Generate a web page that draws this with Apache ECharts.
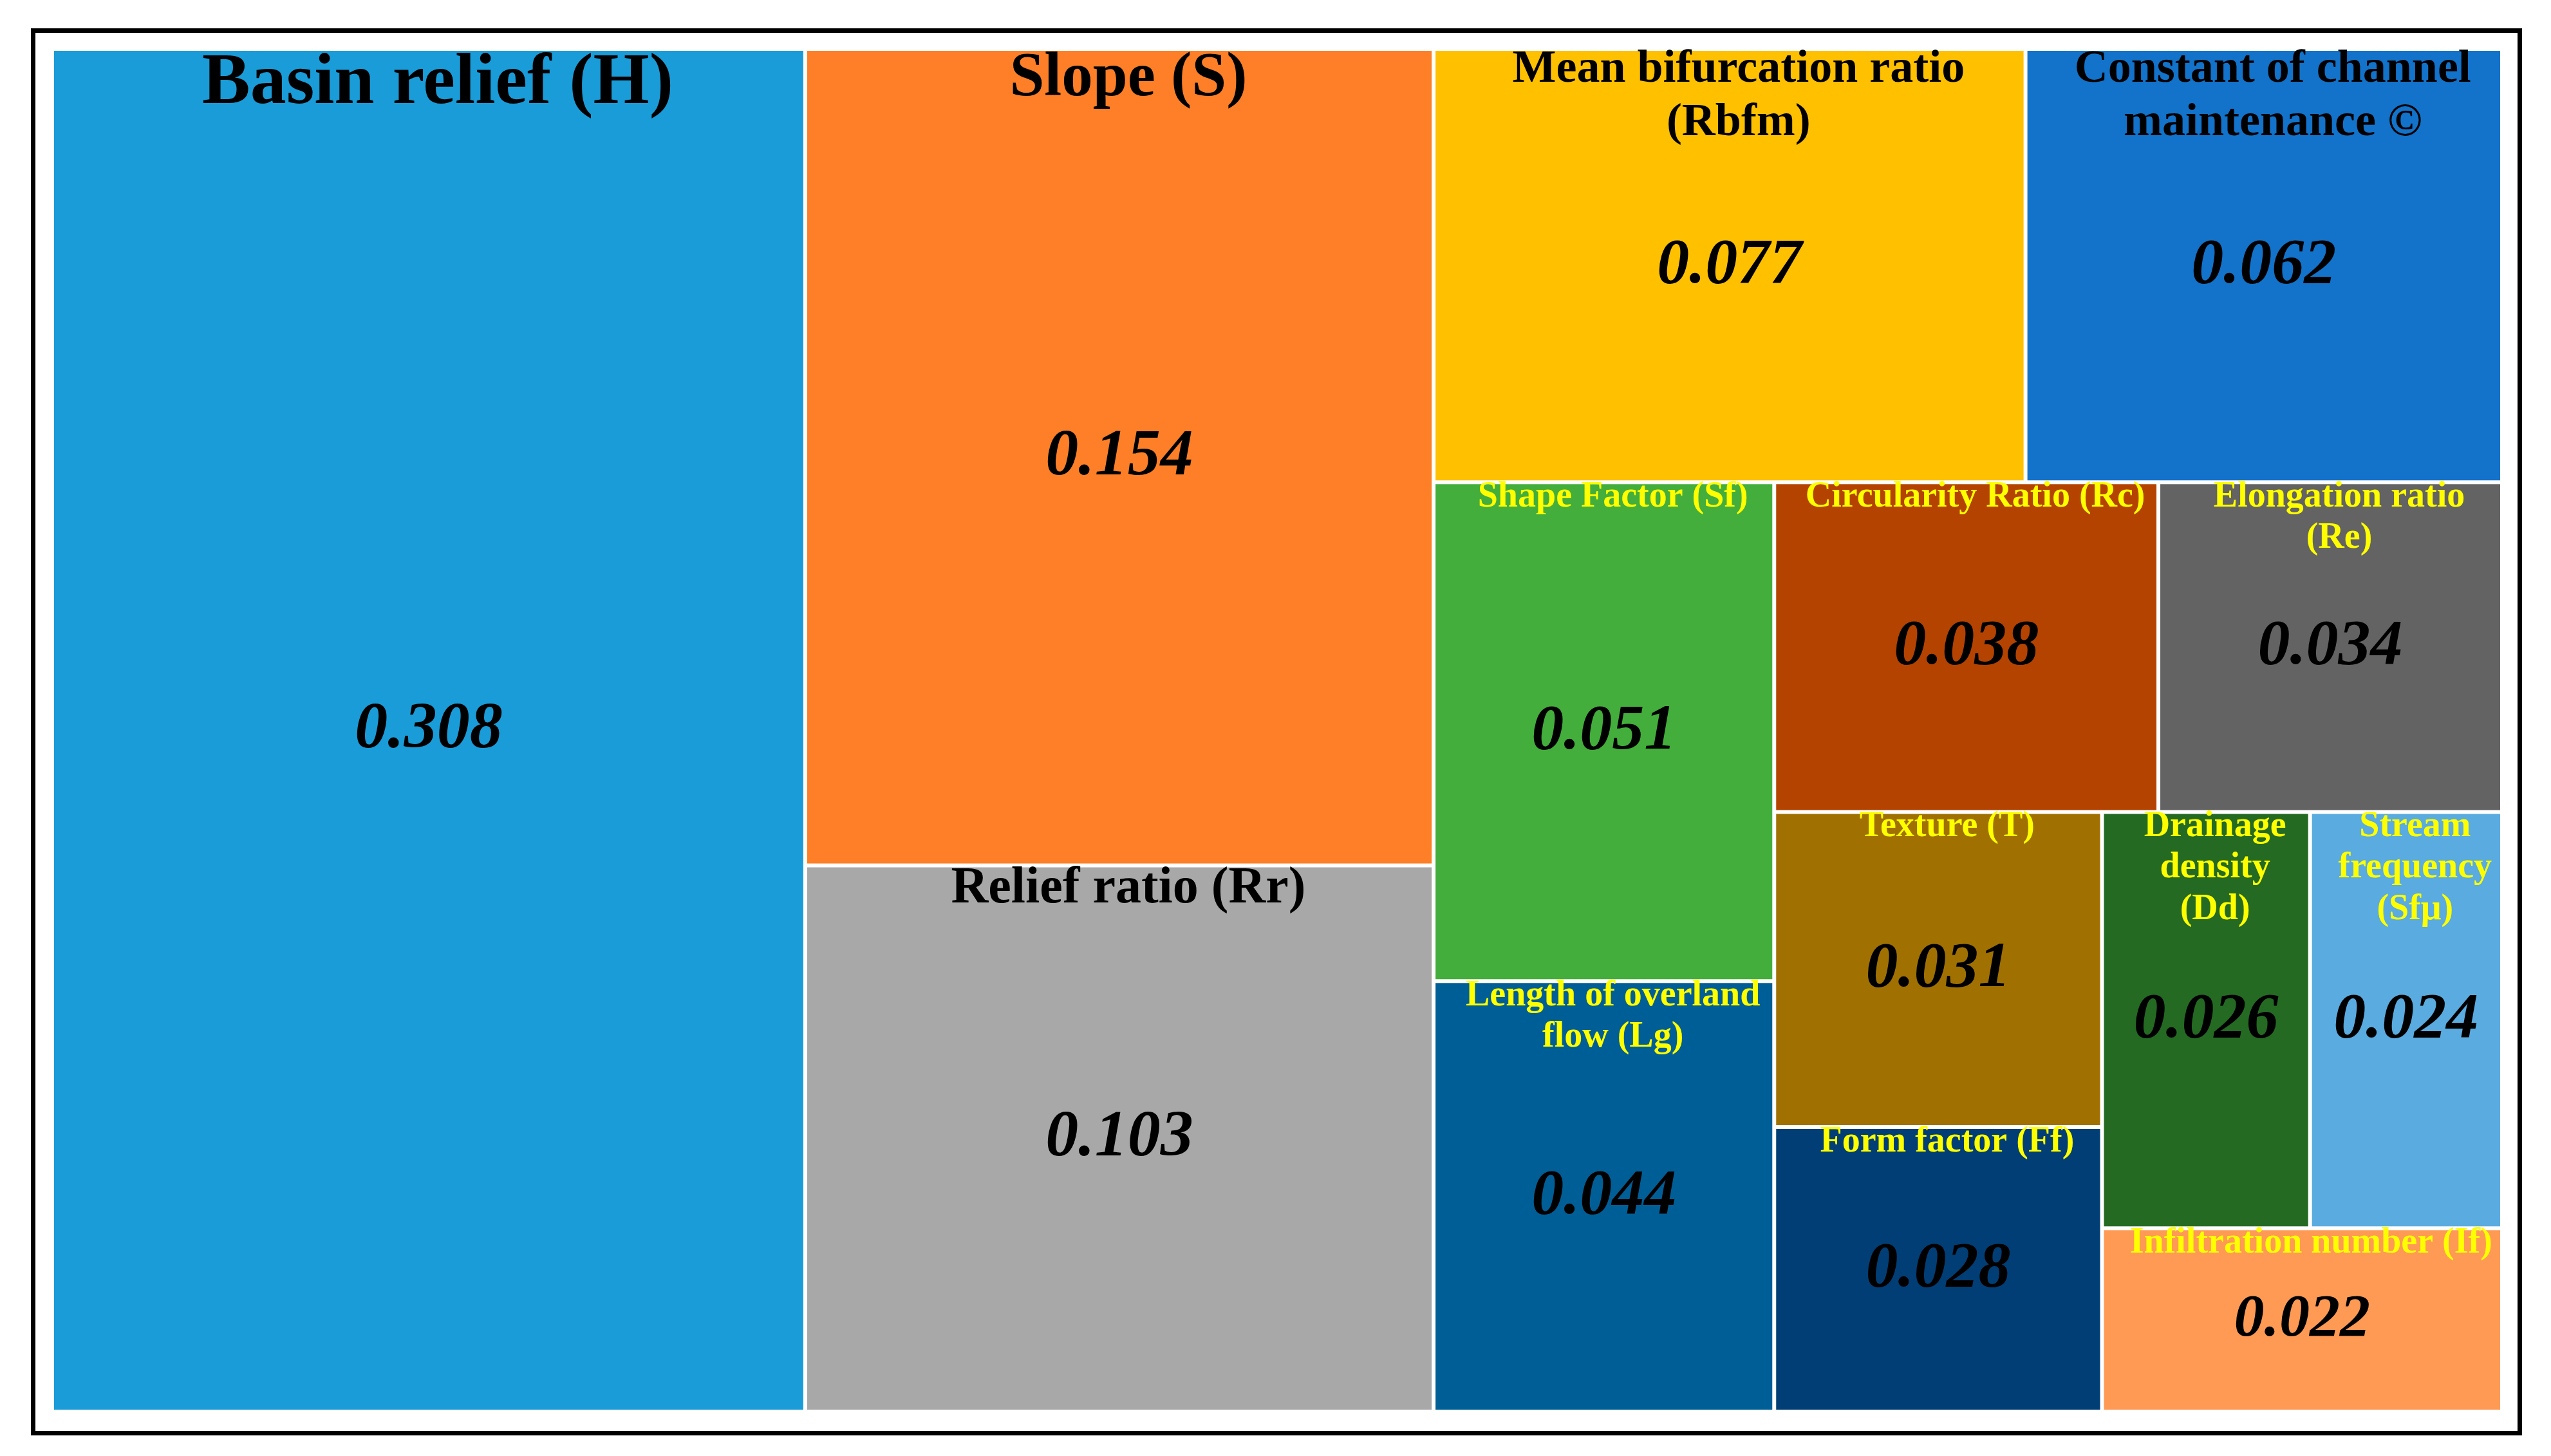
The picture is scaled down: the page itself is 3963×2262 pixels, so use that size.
<!DOCTYPE html>
<html>
<head>
<meta charset="utf-8">
<script src="https://cdn.jsdelivr.net/npm/echarts@6/dist/echarts.min.js"></script>
<style>
html,body{margin:0;padding:0;background:#fff;}
#frame{position:absolute;left:48px;top:44px;width:3856px;height:2172px;border:7px solid #000;}
#chart{position:absolute;left:0;top:0;width:3963px;height:2262px;}
</style>
</head>
<body>
<div id="frame"></div>
<div id="chart"></div>
<script>
// 数据
let names = ['Basin relief (H)','Slope (S)','Relief ratio (Rr)','Mean bifurcation ratio\n(Rbfm)','Constant of channel\nmaintenance ©',
    'Shape Factor (Sf)','Length of overland\nflow (Lg)','Circularity Ratio (Rc)','Elongation ratio\n(Re)','Texture (T)',
    'Form factor (Ff)','Drainage\ndensity\n(Dd)','Stream\nfrequency\n(Sfμ)','Infiltration number (If)'];
let values = [0.308,0.154,0.103,0.077,0.062,0.051,0.044,0.038,0.034,0.031,0.028,0.026,0.024,0.022];
let colors = ['#1a9cd8','#fe7f27','#a8a8a8','#ffc000','#1372c9','#43ae3b','#005e96','#b44300','#636363','#a07100','#003e75','#246a23','#5aabdf','#ff9a55'];
let nameColors = ['#000','#000','#000','#000','#000','#ffff00','#ffff00','#ffff00','#ffff00','#ffff00','#ffff00','#ffff00','#ffff00','#ffff00'];
let nameSizes = [112,97,80,72,72,56,56,56,56,56,56,56,56,56];
let valueSizes = [102,102,102,100,100,100,100,100,100,100,100,100,100,94];
// 分组（决定矩形的嵌套排列）
let groups = [0, [[1,2], [[3,4], [[5,6], [[7,8], [[9,10], [[11,12],13]]]]]]];

let chart = echarts.init(document.getElementById('chart'));

function valueLeaf(i){
    return {
        name:names[i], value:values[i],
        itemStyle:{color:colors[i],borderColor:'#fff',borderWidth:3},
        label:{show:true,position:'inside',formatter:values[i].toFixed(3),
            fontFamily:'Liberation Serif',fontWeight:'bold',fontStyle:'italic',
            fontSize:valueSizes[i],color:'#000'}
    };
}
function nameLeaf(i){
    let lines = names[i].split('\n').map(function(s){return '{n|'+s+'}';}).join('\n');
    return {
        name:names[i], value:values[i],
        itemStyle:{color:'rgba(0,0,0,0)',borderWidth:0},
        label:{show:true,position:'insideBottomLeft',formatter:lines,distance:14,
            rich:{n:{fontFamily:'Liberation Serif',fontWeight:'bold',fontSize:nameSizes[i],
                color:nameColors[i],align:'center',lineHeight:nameSizes[i]*1.15}}}
    };
}
function build(g, leafFn){
    if(typeof g === 'number') return leafFn(g);
    let children = g.map(function(c){return build(c, leafFn);});
    let sum = children.reduce(function(s,c){return s+c.value;},0);
    return {name:'', value:sum, children:children, label:{show:false},
        itemStyle:{borderWidth:0,gapWidth:0,color:'rgba(0,0,0,0)'}};
}

let common = {
    type:'treemap', roam:false, nodeClick:false, breadcrumb:{show:false},
    sort:false, squareRatio:1.12, visibleMin:0,
    left:81, top:76, right:76, bottom:69,
    upperLabel:{show:false},
    itemStyle:{borderWidth:0,gapWidth:0}
};

chart.setOption({
    animation:false,
    series:[
        Object.assign({}, common, {data:build(groups, valueLeaf).children}),
        Object.assign({}, common, {data:build(groups, nameLeaf).children, silent:true})
    ]
});
</script>
</body>
</html>
